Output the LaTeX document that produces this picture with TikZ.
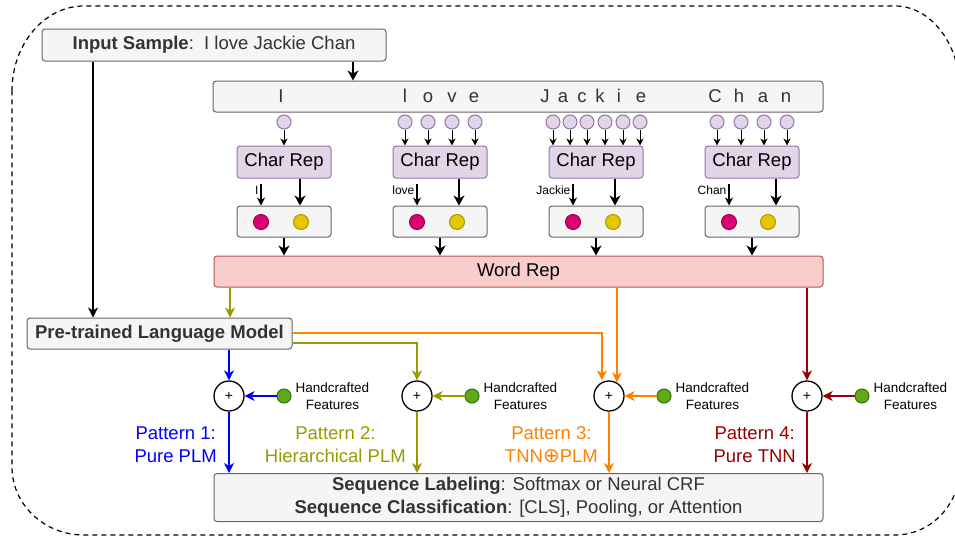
\documentclass[tikz,border=0pt]{standalone}
\usepackage{fontspec}
\setmainfont{Liberation Sans}
\newfontfamily\symfont{DejaVu Sans}
\usetikzlibrary{arrows.meta}
\definecolor{gfill}{HTML}{F5F5F5}
\definecolor{gline}{HTML}{666666}
\definecolor{gtext}{HTML}{333333}
\definecolor{pfill}{HTML}{E1D5E7}
\definecolor{pline}{HTML}{9673A6}
\definecolor{wfill}{HTML}{F8CECC}
\definecolor{wline}{HTML}{B85450}
\definecolor{rfill}{HTML}{D80073}
\definecolor{rline}{HTML}{A50040}
\definecolor{yfill}{HTML}{E3C800}
\definecolor{yline}{HTML}{B09500}
\definecolor{grfill}{HTML}{60A917}
\definecolor{grline}{HTML}{2D7600}
\definecolor{cblue}{HTML}{0000FF}
\definecolor{colive}{HTML}{999900}
\definecolor{corange}{HTML}{FF8000}
\definecolor{cdred}{HTML}{990000}
\newcommand\fmain{\fontsize{18.5}{23}\selectfont}
\newcommand\fsmall{\fontsize{12}{14}\selectfont}
\newcommand\fhand{\fontsize{13.5}{17}\selectfont}
\begin{document}
\begin{tikzpicture}[x=1pt,y=-1pt,
  graybox/.style={draw=gline,fill=gfill,rounded corners=3pt,line width=1pt,text=gtext,font=\fmain,inner sep=0pt},
  charrep/.style={draw=pline,fill=pfill,rounded corners=3pt,line width=1pt,font=\fmain,minimum width=94pt,minimum height=32pt,inner sep=0pt},
  pc/.style={circle,draw=pline,fill=pfill,line width=1pt,minimum size=14pt,inner sep=0pt},
  reddot/.style={circle,draw=rline,fill=rfill,line width=1pt,minimum size=15pt,inner sep=0pt},
  yeldot/.style={circle,draw=yline,fill=yfill,line width=1pt,minimum size=15pt,inner sep=0pt},
  grdot/.style={circle,draw=grline,fill=grfill,line width=1pt,minimum size=14pt,inner sep=0pt},
  plus/.style={circle,draw=black,fill=white,line width=1.3pt,minimum size=30pt,inner sep=0pt,font=\fontsize{14}{14}\selectfont},
  letter/.style={font=\fmain,text=gtext,inner sep=0pt,anchor=base},
  arrb/.style={line width=1.4pt,-{Stealth[length=10pt,width=11pt,inset=3pt]}},
  arrm/.style={line width=1.2pt,-{Stealth[length=8pt,width=8pt,inset=2.5pt]}},
  arrs/.style={line width=1pt,-{Stealth[length=7pt,width=7pt,inset=2.2pt]}},
  arrc/.style={line width=1.3pt,-{Stealth[length=10pt,width=10pt,inset=3pt]}},
  handlab/.style={font=\fhand,align=center,anchor=west,inner sep=0pt},
  patlab/.style={font=\fmain,align=center,anchor=east,inner sep=0pt}
]
\useasboundingbox (0,0) rectangle (955,536);
% outer dashed frame
\draw[line width=1.2pt,dash pattern=on 5pt off 4pt]
  (12,91) .. controls (12,44.05) and (44.2,6) .. (84,6) -- (895,6)
  .. controls (930.9,6) and (960,44.05) .. (960,91) -- (960,467)
  .. controls (960,504.6) and (930.9,535) .. (895,535) -- (84,535)
  .. controls (44.2,535) and (12,504.6) .. (12,467) -- cycle;

% main boxes
\node[graybox,minimum width=344pt,minimum height=32pt] (inp) at (214,45) {\textbf{Input Sample}:\ \ I love Jackie Chan};
\node[graybox,minimum width=610pt,minimum height=31pt] (chars) at (518,96.5) {};
\node[draw=wline,fill=wfill,rounded corners=3pt,line width=1pt,font=\fmain,minimum width=609pt,minimum height=31pt,inner sep=0pt] (word) at (518.5,271.5) {Word Rep};
\node[graybox,minimum width=265pt,minimum height=31pt] (plm) at (159.5,333.5) {\textbf{Pre-trained Language Model}};
\node[graybox,minimum width=609pt,minimum height=48pt,align=center] (seq) at (518.5,497.5)
  {\textbf{Sequence Labeling}: Softmax or Neural CRF\\[0pt]\textbf{Sequence Classification}: [CLS], Pooling, or Attention};

% letters
\foreach \x/\c [count=\i] in {281/I,405/l,428/o,452/v,474/e,545/J,563/a,582/c,600/k,619/i,641/e,715/C,739/h,763/a,786/n}
  \node[letter] (lt\i) at (\x,102.5) {\c};

\coordinate (k1) at (353,0);
\coordinate (x93) at (93,0);
\coordinate (x230) at (230,0);
\coordinate (x617) at (617,0);
\draw[arrb] (inp.south -| k1) -- (chars.north -| k1);
\draw[arrc] (inp.south -| x93) -- (plm.north -| x93);

% char reps and embeddings
\foreach \k/\cx/\xs/\xb/\xy/\lab in {1/284/261/300/301/I, 2/440/417/459/457/love, 3/596/573/615/613/Jackie, 4/752/729/776/768/Chan}{
  \node[charrep] (cr\k) at (\cx,162) {Char Rep};
  \node[graybox,minimum width=94pt,minimum height=31pt] (e\k) at (\cx,221.5) {};
  \node[reddot] (r\k) at (\xs,222) {};
  \node[yeldot] (y\k) at (\xy,222) {};
  \coordinate (b\k) at (\xb,0);
  \draw[arrm] ([yshift=-5pt]cr\k.south -| r\k) -- (e\k.north -| r\k)
     node[pos=0.3,left,inner sep=2pt,font=\fsmall] {\lab};
  \draw[arrb] (cr\k.south -| b\k) -- (e\k.north -| b\k);
  \draw[arrb] (e\k.south) -- (word.north -| e\k.south);
}

% character circles
\node[pc] (c11) at (284,122) {};
\draw[arrs] (c11.south) -- (cr1.north -| c11.south);
\foreach \x [count=\i] in {405,428,452,475}{
  \node[pc] (c2\i) at (\x,122) {};
  \draw[arrs] (c2\i.south) -- (cr2.north -| c2\i.south);
}
\foreach \x [count=\i] in {553,570,587,605,623,640}{
  \node[pc] (c3\i) at (\x,122) {};
  \draw[arrs] (c3\i.south) -- (cr3.north -| c3\i.south);
}
\foreach \x [count=\i] in {717,741,764,787}{
  \node[pc] (c4\i) at (\x,122) {};
  \draw[arrs] (c4\i.south) -- (cr4.north -| c4\i.south);
}

% plus nodes and features
\foreach \k/\px/\col in {1/229/cblue,2/417/colive,3/609/corange,4/807/cdred}{
  \node[plus] (p\k) at (\px,396) {+};
  \node[grdot] (g\k) at (\px+55,396) {};
  \node[handlab] (h\k) at ([xshift=4pt]g\k.east) {Handcrafted\\Features};
  \draw[arrc,draw=\col,color=\col] (g\k.west) -- (p\k.east);
  \draw[arrc,draw=\col,color=\col] (p\k.south) -- (seq.north -| p\k.south);
}

% pattern connectors
\draw[arrc,cblue] (plm.south -| p1) -- (p1.north);
\draw[arrc,colive] (word.south -| x230) -- (plm.north -| x230);
\draw[arrc,colive] ([yshift=-9.5pt]plm.east) -| (p2.north);
\draw[arrc,corange] ([yshift=0.5pt]plm.east) -| ([xshift=-7pt]p3.north);
\draw[arrc,corange] (word.south -| x617) -- ([yshift=-2pt]p3.north -| x617);
\draw[arrc,cdred] (word.south -| p4) -- (p4.north);

% pattern labels
\node[patlab,text=cblue] (pl1) at (217,444.5) {Pattern 1:\\Pure PLM};
\node[patlab,text=colive] (pl2) at (406,444.5) {Pattern 2:\\Hierarchical PLM};
\node[patlab,text=corange] (pl3) at (598,444.5) {Pattern 3:\\TNN{\symfont\fontsize{20}{23}\selectfont ⊕}PLM};
\node[patlab,text=cdred] (pl4) at (796,444.5) {Pattern 4:\\Pure TNN};
\end{tikzpicture}
\end{document}
